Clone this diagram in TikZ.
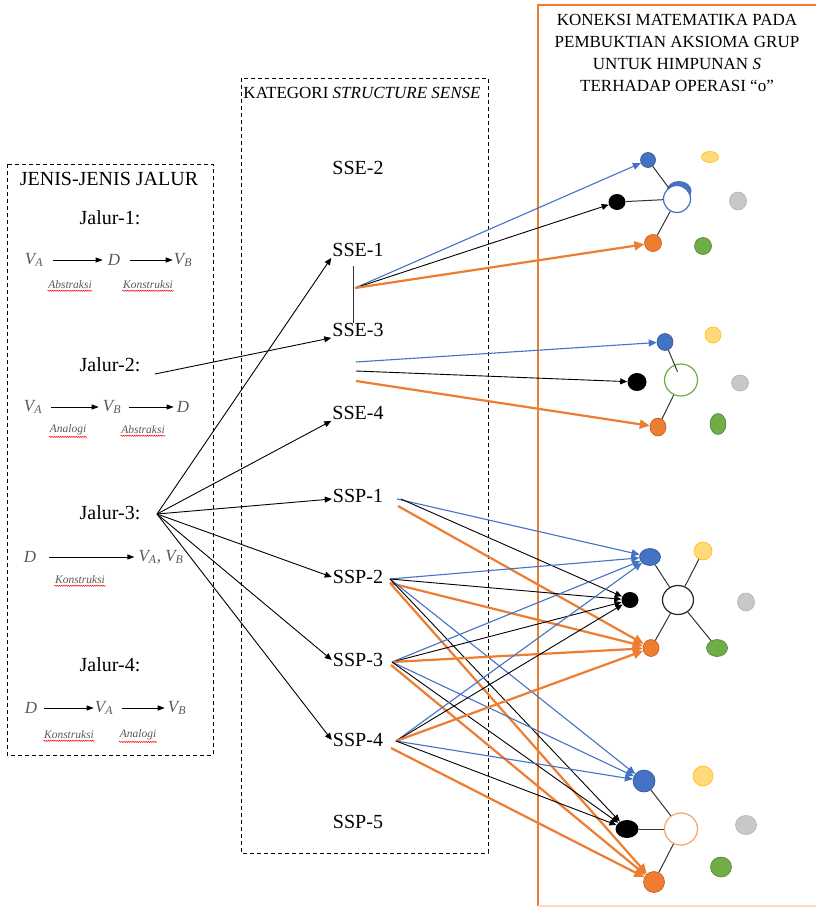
\documentclass[tikz,border=0pt]{standalone}
\usepackage{fontspec}
\setmainfont{Liberation Serif}
\usetikzlibrary{arrows.meta,shapes.geometric,decorations.pathmorphing}
\definecolor{oblue}{HTML}{4472C4}
\definecolor{oblued}{HTML}{2F528F}
\definecolor{oorange}{HTML}{ED7D31}
\definecolor{oorangel}{HTML}{F4A46E}
\definecolor{oorangee}{HTML}{C55A11}
\definecolor{ogreen}{HTML}{70AD47}
\definecolor{ogreend}{HTML}{548235}
\definecolor{oyellow}{HTML}{FFD97A}
\definecolor{oyellowd}{HTML}{FFC000}
\definecolor{ogray}{HTML}{C8C8C8}
\definecolor{ograyd}{HTML}{B0B0B0}
\definecolor{mgray}{HTML}{5A5A5A}
\begin{document}
\begin{tikzpicture}[x=1pt,y=-1pt,
 big/.style={font=\fontsize{20}{24}\selectfont, inner sep=1pt},
 hdr/.style={font=\fontsize{17}{22}\selectfont, inner sep=0pt},
 mth/.style={font=\fontsize{17}{20}\selectfont\itshape, text=mgray, inner sep=1pt},
 sml/.style={font=\fontsize{11.5}{13}\selectfont\itshape, text=mgray, inner sep=0.5pt},
 squig/.style={draw=red, line width=0.5pt, decorate, decoration={snake, amplitude=0.6pt, segment length=2.2pt}},
 dbox/.style={draw=black, line width=0.9pt, dash pattern=on 4pt off 3pt},
 ka/.style={draw=black, line width=0.9pt, -{Triangle[length=7pt,width=6pt]}},
 ba/.style={draw=oblue, line width=1.1pt, -{Triangle[length=8pt,width=7pt]}},
 oa/.style={draw=oorange, line width=2.2pt, -{Triangle[length=10pt,width=9pt]}},
 la/.style={draw=black, line width=0.8pt, -{Triangle[length=7pt,width=5pt]}},
 cdot/.style={ellipse, inner sep=0pt, line width=0.6pt},
 clink/.style={draw=black!80, line width=1pt},
]
\useasboundingbox (0,0) rectangle (816,907);
\fill[white] (0,0) rectangle (816,907);

% ---------- boxes ----------
\draw[dbox] (7,164) rectangle (213,755);
\draw[dbox] (241,78) rectangle (488,853);
\draw[draw=oorange, line width=1.1pt] (830,5) -- (538,5) -- (538,906);
\draw[draw=oorange!30, line width=1.1pt] (538,906) -- (830,906);

% ---------- left box ----------
\node[big] (jj) at (109,179) {JENIS-JENIS JALUR};
\node[big] (j1) at (110,218) {Jalur-1:};
\node[big] (j2t) at (110,365) {Jalur-2:};
\node[big] (j3t) at (110,513) {Jalur-3:};
\node[big] (j4) at (110,665) {Jalur-4:};

% row 1
\node[mth] (va1) at (34,260) {V\textsubscript{A}};
\node[mth] (d1) at (114,260) {D};
\node[mth] (vb1) at (183,260) {V\textsubscript{B}};
\draw[la] ([xshift=9pt]va1.east) -- ([xshift=-4pt]d1.west);
\draw[la] ([xshift=9pt]d1.east) -- ([xshift=0pt]vb1.west);
\node[sml] (l1a) at (70,285) {Abstraksi};
\node[sml] (l1b) at (148,285) {Konstruksi};
% row 2
\node[mth] (va2) at (33,407) {V\textsubscript{A}};
\node[mth] (vb2) at (112,407) {V\textsubscript{B}};
\node[mth] (d2) at (183,407) {D};
\draw[la] ([xshift=8pt]va2.east) -- ([xshift=-3pt]vb2.west);
\draw[la] ([xshift=7pt]vb2.east) -- ([xshift=-2pt]d2.west);
\node[sml] (l2a) at (68,430) {Analogi};
\node[sml] (l2b) at (143,430) {Abstraksi};
% row 3
\node[mth] (d3) at (30,557) {D};
\node[mth] (vab) at (161,557) {V\textsubscript{A}, V\textsubscript{B}};
\draw[la] ([xshift=12pt]d3.east) -- ([xshift=-3pt]vab.west);
\node[sml] (l3a) at (80,580) {Konstruksi};
% row 4
\node[mth] (d4) at (31,708) {D};
\node[mth] (va4) at (104,708) {V\textsubscript{A}};
\node[mth] (vb4) at (177,708) {V\textsubscript{B}};
\draw[la] ([xshift=6pt]d4.east) -- ([xshift=0pt]va4.west);
\draw[la] ([xshift=8pt]va4.east) -- ([xshift=-2pt]vb4.west);
\node[sml] (l4a) at (69,735) {Konstruksi};
\node[sml] (l4b) at (138,735) {Analogi};

\foreach \n in {l1a,l1b,l2a,l2b,l3a,l4a,l4b}{
  \draw[squig] ([yshift=-1pt]\n.south west) -- ([yshift=-1pt]\n.south east);
}

% ---------- middle box ----------
\node[hdr] (kat) at (362,93) {KATEGORI \textit{STRUCTURE SENSE}};
\node[big] (sse2) at (358,168) {SSE-2};
\node[big] (sse1) at (358,250) {SSE-1};
\node[big] (sse3) at (358,330) {SSE-3};
\node[big] (sse4) at (358,413) {SSE-4};
\node[big] (ssp1) at (358,496) {SSP-1};
\node[big] (ssp2) at (358,577) {SSP-2};
\node[big] (ssp3) at (358,660) {SSP-3};
\node[big] (ssp4) at (358,740) {SSP-4};
\node[big] (ssp5) at (358,822) {SSP-5};

\coordinate (bt) at (353,266);
\coordinate (bb) at (353,323);
\draw[draw=black!80, line width=0.9pt] (bt) -- (bb);

% ---------- right title ----------
\node[hdr, align=center] (ttl) at (677,53) {KONEKSI MATEMATIKA PADA\\PEMBUKTIAN AKSIOMA GRUP\\UNTUK HIMPUNAN \textit{S}\\TERHADAP OPERASI “o”};

% ---------- cluster 1 ----------
\node[cdot, fill=oblue, draw=oblued, minimum width=15pt, minimum height=15pt] (c1b) at (648,160) {};
\node[cdot, fill=oyellow, draw=oyellowd, minimum width=17pt, minimum height=11pt] (c1y) at (710,157) {};
\node[cdot, fill=oblue, minimum width=25pt, minimum height=20pt] (c1cap) at (679,191) {};
\node[cdot, fill=white, draw=oblue, line width=1.2pt, minimum size=27pt] (c1c) at (677,199) {};
\node[cdot, fill=black, minimum width=17pt, minimum height=16pt] (c1k) at (617,202) {};
\node[cdot, fill=ogray, draw=ograyd, minimum width=17pt, minimum height=18pt] (c1g) at (738,201) {};
\node[cdot, fill=oorange, draw=oorangee, minimum size=17pt] (c1o) at (653,243) {};
\node[cdot, fill=ogreen, draw=ogreend, minimum size=17pt] (c1e) at (703,246) {};
\draw[clink] (c1b) -- (c1c);
\draw[clink] (c1k) -- (c1c);
\draw[clink] (c1c) -- (c1o);

% ---------- cluster 2 ----------
\node[cdot, fill=oblue, draw=oblued, minimum width=16pt, minimum height=17pt] (c2b) at (665,342) {};
\node[cdot, fill=oyellow, draw=oyellowd, minimum width=16pt, minimum height=16pt] (c2y) at (713,335) {};
\node[cdot, draw=ogreen, line width=1.2pt, minimum width=33pt, minimum height=32pt] (c2c) at (681,380) {};
\node[cdot, fill=black, minimum width=19pt, minimum height=18pt] (c2k) at (637,382) {};
\node[cdot, fill=ogray, draw=ograyd, minimum width=17pt, minimum height=16pt] (c2g) at (740,383) {};
\node[cdot, fill=oorange, draw=oorangee, minimum width=16pt, minimum height=18pt] (c2o) at (658,427) {};
\node[cdot, fill=ogreen, draw=ogreend, minimum width=16pt, minimum height=21pt] (c2e) at (718,424) {};
\draw[clink, shorten >=9pt] (c2b) -- (c2c.center);
\draw[clink] (c2c) -- (c2o);

% ---------- cluster 3 ----------
\node[cdot, fill=oblue, draw=oblued, minimum width=21pt, minimum height=17pt] (c3b) at (650,557) {};
\node[cdot, fill=oyellow, draw=oyellowd, minimum size=18pt] (c3y) at (703,551) {};
\node[cdot, fill=white, draw=black!85, line width=1.2pt, minimum width=31pt, minimum height=29pt] (c3c) at (678,600) {};
\node[cdot, fill=black, minimum width=17pt, minimum height=16pt] (c3k) at (630,600) {};
\node[cdot, fill=ogray, draw=ograyd, minimum width=17pt, minimum height=18pt] (c3g) at (746,602) {};
\node[cdot, fill=oorange, draw=oorangee, minimum width=16pt, minimum height=17pt] (c3o) at (651,648) {};
\node[cdot, fill=ogreen, draw=ogreend, minimum width=21pt, minimum height=17pt] (c3e) at (717,648) {};
\draw[clink] (c3b) -- (c3c);
\draw[clink] (c3y) -- (c3c);
\draw[clink] (c3c) -- (c3o);
\draw[clink] (c3c) -- (c3e);

% ---------- cluster 4 ----------
\node[cdot, fill=oblue, draw=oblued, minimum size=22pt] (c4b) at (644,781) {};
\node[cdot, fill=oyellow, draw=oyellowd, minimum size=20pt] (c4y) at (703,776) {};
\node[cdot, fill=white, draw=oorangel, line width=1.2pt, minimum width=33pt, minimum height=32pt] (c4c) at (681,829) {};
\node[cdot, fill=black, minimum width=23pt, minimum height=18pt] (c4k) at (627,829) {};
\node[cdot, fill=ogray, draw=ograyd, minimum width=21pt, minimum height=19pt] (c4g) at (746,825) {};
\node[cdot, fill=oorange, draw=oorangee, minimum size=21pt] (c4o) at (654,882) {};
\node[cdot, fill=ogreen, draw=ogreend, minimum width=21pt, minimum height=20pt] (c4e) at (721,867) {};
\draw[clink] (c4b) -- (c4c);
\draw[clink] (c4k) -- (c4c);
\draw[clink] (c4c) -- (c4o);

% ---------- start points ----------
\coordinate (j2) at (155,374);
\coordinate (j3) at (157,514);
\coordinate (e1) at (355,288);
\coordinate (e3b) at (356,362);
\coordinate (e3k) at (356,371);
\coordinate (e3o) at (356,381);
\coordinate (p1b) at (397,499);
\coordinate (p1k) at (401,499);
\coordinate (p1o) at (398,506);
\coordinate (p2) at (390,579);
\coordinate (p2o) at (390,583);
\coordinate (p3) at (392,662);
\coordinate (p3o) at (391,665);
\coordinate (p4) at (396,741);
\coordinate (p4o) at (391,748);

% ---------- left arrows ----------
\draw[ka] (j2) -- (sse3.south west);
\draw[ka] (j3) -- (sse1.south west);
\draw[ka] (j3) -- (sse4.south west);
\draw[ka] (j3) -- ([yshift=-3pt]ssp1.west);
\draw[ka] (j3) -- (ssp2.west);
\draw[ka] (j3) -- (ssp3.west);
\draw[ka] (j3) -- (ssp4.west);

% ---------- SSE arrows ----------
\draw[ba] (e1) -- (c1b);
\draw[ka] (e1) -- (c1k);
\draw[oa] (e1) -- (c1o);
\draw[ba] (e3b) -- (c2b);
\draw[ka] (e3k) -- (c2k);
\draw[oa] (e3o) -- (c2o);

% ---------- SSP arrows ----------
\draw[ba] (p1b) -- (c3b);
\draw[ka] (p1k) -- (c3k);
\draw[oa] (p1o) -- (c3o);

\draw[ba] (p2) -- (c3b);
\draw[ka] (p2) -- (c3k);
\draw[oa] (p2o) -- (c3o);
\draw[ba] (p2) -- (c4b);
\draw[ka] (p2) -- (c4k);
\draw[oa] (p2o) -- (c4o);

\draw[ba] (p3) -- (c3b);
\draw[ka] (p3) -- (c3k);
\draw[oa] (p3) -- (c3o);
\draw[ba] (p3) -- (c4b);
\draw[ka] (p3) -- (c4k);
\draw[oa] (p3o) -- (c4o);

\draw[ba] (p4) -- (c3b);
\draw[ka] (p4) -- (c3k);
\draw[oa] (p4) -- (c3o);
\draw[ba] (p4) -- (c4b);
\draw[ka] (p4) -- (c4k);
\draw[oa] (p4o) -- (c4o);
\end{tikzpicture}
\end{document}
